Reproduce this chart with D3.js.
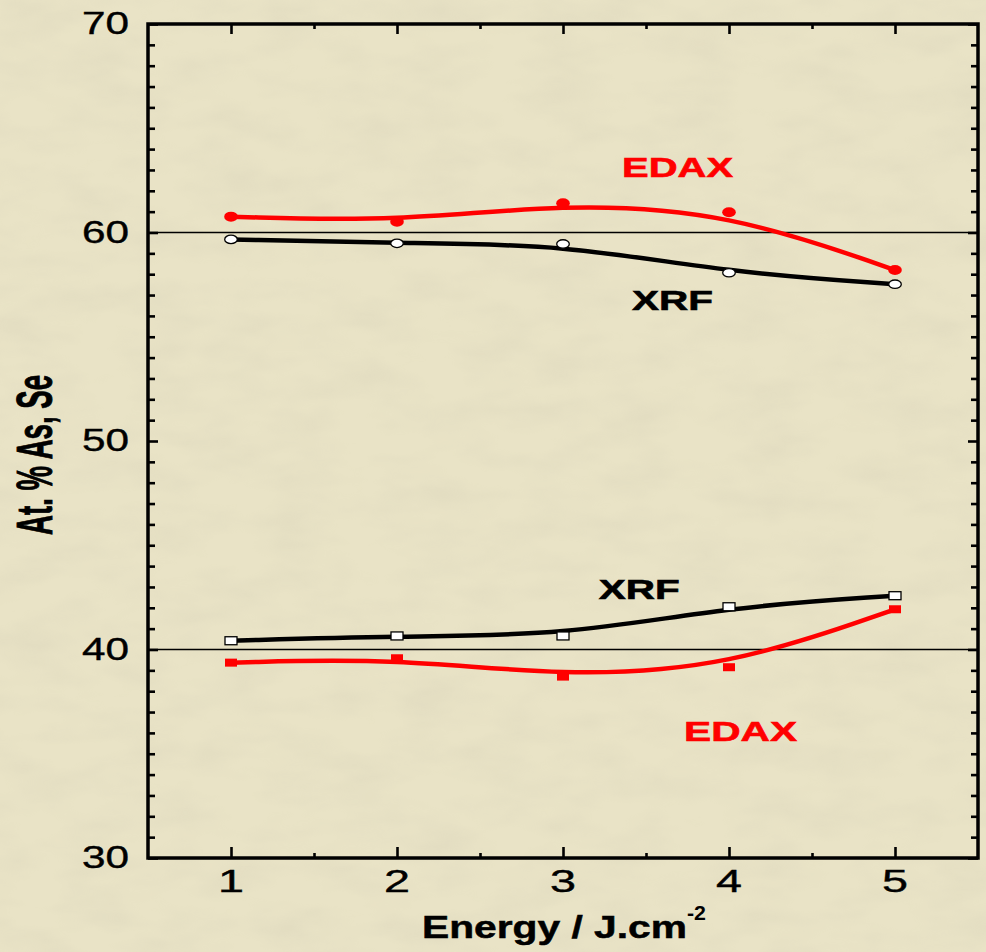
<!DOCTYPE html>
<html><head><meta charset="utf-8">
<script src="https://cdn.jsdelivr.net/npm/d3@7"></script>
<style>html,body{margin:0;padding:0;background:#e7e0c2;overflow:hidden}</style>
</head><body>
<svg id="c" width="986" height="952"></svg>
<script>
// ---- data ----
const energy = [1, 2, 3, 4, 5];
const edaxSe = [60.76, 60.52, 61.40, 60.97, 58.20];   // red filled circles
const xrfSe  = [59.67, 59.48, 59.45, 58.07, 57.52];   // black open circles
const xrfAs  = [40.42, 40.65, 40.65, 42.05, 42.58];   // black open squares
const edaxAs = [39.37, 39.58, 38.70, 39.15, 41.93];   // red filled squares
const yTickLabels = [30, 40, 50, 60, 70];
const xTickLabels = [1, 2, 3, 4, 5];
const refLevels = [60, 40];
const seriesNames = ["EDAX", "XRF", "XRF", "EDAX"];

const svg = d3.select("#c");
const W = 986, H = 952;
const L = 148, R = 978, T = 24, B = 858;
const x = d3.scaleLinear().domain([0.5, 5.5]).range([L, R]);
const y = d3.scaleLinear().domain([30, 70]).range([B, T]);

// background with subtle texture
const defs = svg.append("defs");
const f = defs.append("filter").attr("id", "tex").attr("x", 0).attr("y", 0).attr("width", 1).attr("height", 1);
f.append("feTurbulence").attr("type", "fractalNoise").attr("baseFrequency", "0.015 0.035").attr("numOctaves", 3).attr("seed", 4).attr("result", "n");
f.append("feColorMatrix").attr("in", "n").attr("type", "matrix")
  .attr("values", "0 0 0 0 0.55  0 0 0 0 0.52  0 0 0 0 0.4  0 0 0 -1.2 0.75");
svg.append("rect").attr("width", W).attr("height", H).attr("fill", "#e9e3c6");
svg.append("rect").attr("width", W).attr("height", H).attr("filter", "url(#tex)").attr("opacity", 0.25);

// reference lines
svg.append("g").selectAll("line").data(refLevels).join("line")
  .attr("x1", L).attr("x2", R).attr("y1", d => y(d)).attr("y2", d => y(d))
  .attr("stroke", "#000").attr("stroke-width", 1.3);

// axes ticks (inward)
function tickAxis(axisFn, scale, values, size, tr) {
  const g = svg.append("g").attr("transform", tr)
    .call(axisFn(scale).tickValues(values).tickSize(size).tickFormat(""));
  g.select(".domain").remove();
  g.selectAll("line").attr("stroke", "#000").attr("stroke-width", 2.6);
  return g;
}
const yMinor = d3.range(30, 71, 1).filter(v => v % 10 !== 0);
const xMinor = d3.range(0.5, 5.6, 0.5).filter(v => !Number.isInteger(v) && v > 0.5 && v < 5.5);
tickAxis(d3.axisLeft, y, yMinor, -7, `translate(${L},0)`);
tickAxis(d3.axisLeft, y, yTickLabels, -10, `translate(${L},0)`);
tickAxis(d3.axisRight, y, yMinor, -7, `translate(${R},0)`);
tickAxis(d3.axisRight, y, yTickLabels, -10, `translate(${R},0)`);
tickAxis(d3.axisBottom, x, xMinor, -5, `translate(0,${B})`);
tickAxis(d3.axisBottom, x, xTickLabels, -11, `translate(0,${B})`);
tickAxis(d3.axisTop, x, xMinor, -5, `translate(0,${T})`);
tickAxis(d3.axisTop, x, xTickLabels, -10, `translate(0,${T})`);

// frame
svg.append("rect").attr("x", L).attr("y", T).attr("width", R - L).attr("height", B - T)
  .attr("fill", "none").attr("stroke", "#000").attr("stroke-width", 3.5);

// tick labels
const font = "'Liberation Sans', Arial, sans-serif";
svg.append("g").selectAll("text").data(yTickLabels).join("text")
  .attr("x", 129).attr("y", d => y(d) + 10)
  .attr("text-anchor", "end").attr("font-family", font).attr("font-size", 31)
  .attr("stroke", "#000").attr("stroke-width", 0.4)
  .attr("textLength", 47).attr("lengthAdjust", "spacingAndGlyphs")
  .text(d => d);
svg.append("g").selectAll("text").data(xTickLabels).join("text")
  .attr("x", d => x(d)).attr("y", 892)
  .attr("text-anchor", "middle").attr("font-family", font).attr("font-size", 31)
  .attr("stroke", "#000").attr("stroke-width", 0.4)
  .attr("textLength", 26).attr("lengthAdjust", "spacingAndGlyphs")
  .text(d => d);

// axis titles
svg.append("text").attr("x", 422).attr("y", 938)
  .attr("font-family", font).attr("font-weight", "bold").attr("font-size", 31)
  .attr("stroke", "#000").attr("stroke-width", 0.5)
  .attr("textLength", 265).attr("lengthAdjust", "spacingAndGlyphs")
  .text("Energy / J.cm");
svg.append("text").attr("x", 687).attr("y", 920)
  .attr("font-family", font).attr("font-weight", "bold").attr("font-size", 20)
  .attr("textLength", 19).attr("lengthAdjust", "spacingAndGlyphs")
  .text("-2");
svg.append("text")
  .attr("transform", "translate(52,455) scale(1.85,1) rotate(-90)")
  .attr("text-anchor", "middle")
  .attr("font-family", font).attr("font-weight", "bold").attr("font-size", 27.4)
  .attr("stroke", "#000").attr("stroke-width", 0.5)
  .attr("textLength", 160).attr("lengthAdjust", "spacingAndGlyphs")
  .text("At. % As, Se");

// curves
const series = [
  { vals: edaxSe, color: "#ff0000", shape: "circle", filled: true },
  { vals: xrfSe,  color: "#000000", shape: "circle", filled: false },
  { vals: xrfAs,  color: "#000000", shape: "square", filled: false },
  { vals: edaxAs, color: "#ff0000", shape: "square", filled: true },
];
const line = d3.line().x(d => x(d[0])).y(d => y(d[1])).curve(d3.curveBasis);
series.forEach(s => {
  const pts = energy.map((e, i) => [e, s.vals[i]]);
  svg.append("path").datum(pts).attr("d", line)
    .attr("fill", "none").attr("stroke", s.color).attr("stroke-width", 4.5)
    .attr("stroke-linejoin", "round");
});
series.forEach(s => {
  const pts = energy.map((e, i) => [e, s.vals[i]]);
  const g = svg.append("g");
  if (s.shape === "circle") {
    g.selectAll("ellipse").data(pts).join("ellipse")
      .attr("cx", d => x(d[0])).attr("cy", d => y(d[1]))
      .attr("rx", s.filled ? 6.8 : 6.3).attr("ry", s.filled ? 5 : 4.2)
      .attr("fill", s.filled ? s.color : "#fff")
      .attr("stroke", s.filled ? "none" : "#000").attr("stroke-width", 1.3);
  } else {
    g.selectAll("rect").data(pts).join("rect")
      .attr("x", d => x(d[0]) - 6).attr("y", d => y(d[1]) - 4)
      .attr("width", 12).attr("height", 8)
      .attr("fill", s.filled ? s.color : "#fff")
      .attr("stroke", s.filled ? "none" : "#000").attr("stroke-width", 1.3);
  }
});

// series labels (placed in data coordinates)
const labelPos = [[3.69, 62.64, 111], [3.66, 56.28, 81], [3.46, 42.42, 81], [4.07, 35.61, 113]];
const labelColor = ["#ff0000", "#000000", "#000000", "#ff0000"];
svg.append("g").selectAll("text").data(seriesNames).join("text")
  .attr("x", (d, i) => x(labelPos[i][0]))
  .attr("y", (d, i) => y(labelPos[i][1]))
  .attr("text-anchor", "middle")
  .attr("font-family", font).attr("font-weight", "bold").attr("font-size", 28)
  .attr("textLength", (d, i) => labelPos[i][2]).attr("lengthAdjust", "spacingAndGlyphs")
  .attr("fill", (d, i) => labelColor[i])
  .attr("stroke", (d, i) => labelColor[i]).attr("stroke-width", 0.6)
  .text(d => d);
</script>
</body></html>
